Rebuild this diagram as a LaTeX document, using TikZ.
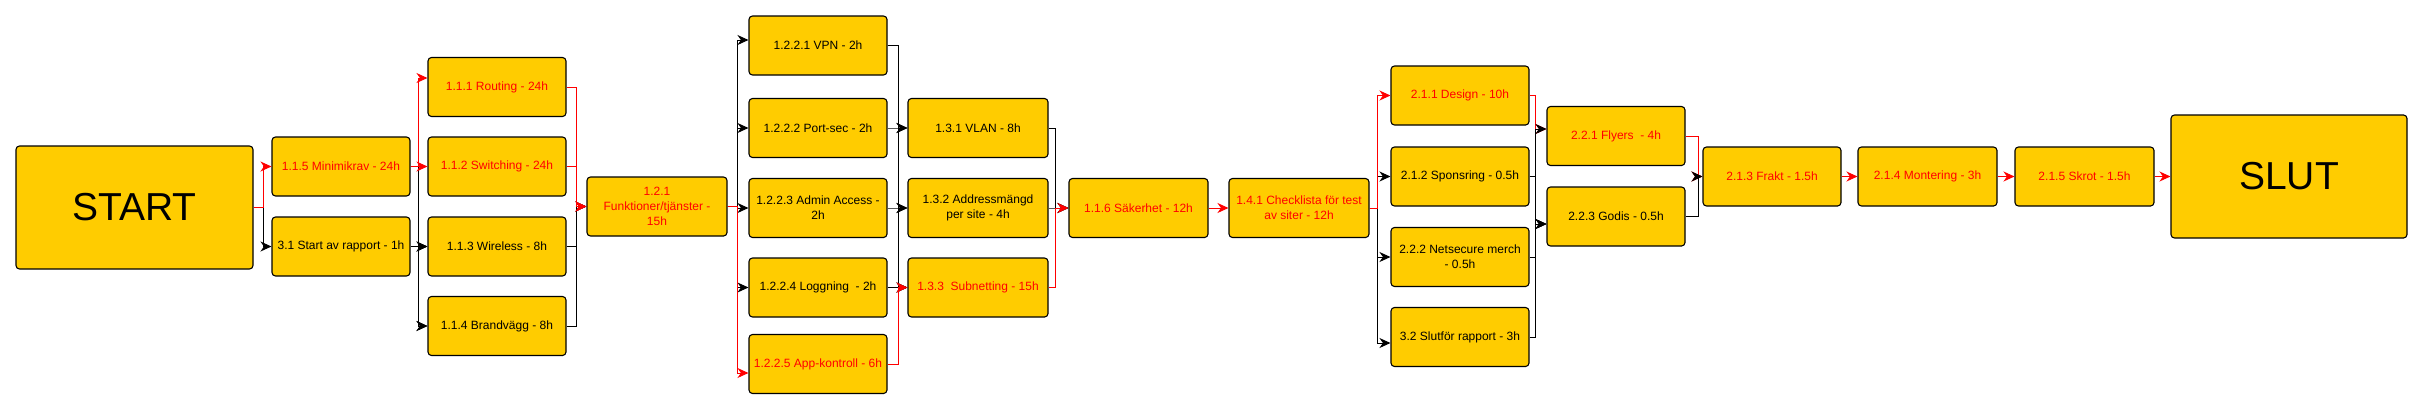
\documentclass[tikz,border=0pt]{standalone}
\usepackage{fontspec}
\setmainfont{Liberation Sans}
\usetikzlibrary{arrows.meta,calc}
\definecolor{boxfill}{HTML}{FFCC00}
\definecolor{redline}{HTML}{FF0000}
\newcommand{\myelbow}[5]{\draw[#1] (#2.east) -- (#2.east -| #3) -- ($(#3 |- #4.west)+(0,#5)$) -- ($(#4.west)+(0,#5)$);}
\begin{document}
\begin{tikzpicture}[x=1pt,y=-1pt,
  task/.style={draw=black, line width=1.1pt, fill=boxfill, rounded corners=3.5pt, inner sep=0pt, align=center,
    font=\fontsize{12}{15}\selectfont, minimum width=138pt, minimum height=59pt},
  crit/.style={task, text=redline},
  big/.style={task, font=\fontsize{39}{47}\selectfont, minimum width=237pt, minimum height=123pt},
  conn/.style={line width=1pt, -{Stealth[length=11pt,width=10pt,inset=3.5pt]}},
  blk/.style={conn, draw=black},
  rd/.style={conn, draw=redline},
]
\useasboundingbox (0,0) rectangle (2423,410);

% nodes
\node[big] (start) at (134.5,207.5) {START};
\node[crit] (n115) at (341,166.5) {1.1.5 Minimikrav - 24h};
\node[task] (n31) at (341,246.5) {3.1 Start av rapport - 1h};
\node[crit] (n111) at (497,87) {1.1.1 Routing - 24h};
\node[crit] (n112) at (497,166.5) {1.1.2 Switching - 24h};
\node[task] (n113) at (497,246.5) {1.1.3 Wireless - 8h};
\node[task] (n114) at (497,326) {1.1.4 Brandvägg - 8h};
\node[crit, minimum width=140pt] (n121) at (657,206.5) {1.2.1\\Funktioner/tjänster -\\15h};
\node[task] (n1221) at (818,45.5) {1.2.2.1 VPN - 2h};
\node[task] (n1222) at (818,128) {1.2.2.2 Port-sec - 2h};
\node[task] (n1223) at (818,208) {1.2.2.3 Admin Access -\\2h};
\node[task] (n1224) at (818,287.5) {1.2.2.4 Loggning~ - 2h};
\node[crit] (n1225) at (818,364) {1.2.2.5 App-kontroll - 6h};
\node[task, minimum width=140pt] (n131) at (978,128) {1.3.1 VLAN - 8h};
\node[task, minimum width=140pt] (n132) at (978,208) {1.3.2 Addressmängd\\per site - 4h};
\node[crit, minimum width=140pt] (n133) at (978,287.5) {1.3.3~ Subnetting - 15h};
\node[crit, minimum width=139pt] (n116) at (1138.5,208) {1.1.6 Säkerhet - 12h};
\node[crit, minimum width=140pt] (n141) at (1299,208) {1.4.1 Checklista för test\\av siter - 12h};
\node[crit] (n211) at (1460,95.5) {2.1.1 Design - 10h};
\node[task] (n212) at (1460,176.5) {2.1.2 Sponsring - 0.5h};
\node[task] (n222) at (1460,257) {2.2.2 Netsecure merch\\- 0.5h};
\node[task] (n32) at (1460,337) {3.2 Slutför rapport - 3h};
\node[crit] (n221) at (1616,136) {2.2.1 Flyers~ - 4h};
\node[task] (n223) at (1616,216.5) {2.2.3 Godis - 0.5h};
\node[crit] (n213) at (1772,176.5) {2.1.3 Frakt - 1.5h};
\node[crit, minimum width=139pt] (n214) at (1927.5,176.5) {2.1.4 Montering - 3h};
\node[crit, minimum width=139pt] (n215) at (2084.5,176.5) {2.1.5 Skrot - 1.5h};
\node[big, minimum width=236pt] (slut) at (2289,176.5) {SLUT};

% junction columns
\coordinate (J1) at (263,0);
\coordinate (J2) at (418,0);
\coordinate (J3) at (576,0);
\coordinate (J4) at (737,0);
\coordinate (J5) at (898,0);
\coordinate (J6) at (1055,0);
\coordinate (J7) at (1377,0);
\coordinate (J8) at (1535,0);
\coordinate (J9) at (1698,0);

% black connectors
\myelbow{blk}{start}{J1}{n31}{0}
\myelbow{blk}{n115}{J2}{n113}{0}
\myelbow{blk}{n115}{J2}{n114}{0}
\myelbow{blk}{n31}{J2}{n113}{0}
\myelbow{blk}{n31}{J2}{n114}{0}
\myelbow{blk}{n113}{J3}{n121}{0}
\myelbow{blk}{n114}{J3}{n121}{0}
\myelbow{blk}{n121}{J4}{n1221}{-5.5}
\myelbow{blk}{n121}{J4}{n1222}{0}
\myelbow{blk}{n121}{J4}{n1223}{0}
\myelbow{blk}{n121}{J4}{n1224}{0}
\myelbow{blk}{n1221}{J5}{n131}{0}
\myelbow{blk}{n1221}{J5}{n132}{0}
\myelbow{blk}{n1221}{J5}{n133}{0}
\myelbow{blk}{n1222}{J5}{n131}{0}
\myelbow{blk}{n1223}{J5}{n132}{0}
\myelbow{blk}{n1224}{J5}{n133}{0}
\myelbow{blk}{n131}{J6}{n116}{0}
\myelbow{blk}{n132}{J6}{n116}{0}
\myelbow{blk}{n141}{J7}{n212}{0}
\myelbow{blk}{n141}{J7}{n222}{0}
\myelbow{blk}{n141}{J7}{n32}{6}

% red connectors
\myelbow{rd}{start}{J1}{n115}{0}
\myelbow{rd}{n115}{J2}{n111}{-9}
\myelbow{rd}{n115}{J2}{n112}{0}
\myelbow{rd}{n111}{J3}{n121}{0}
\myelbow{rd}{n112}{J3}{n121}{0}
\myelbow{rd}{n121}{J4}{n1225}{9}
\myelbow{rd}{n1225}{J5}{n133}{0}
\myelbow{rd}{n133}{J6}{n116}{0}
\draw[rd] (n116) -- (n141);
\myelbow{rd}{n141}{J7}{n211}{0}
\myelbow{rd}{n211}{J8}{n221}{-7}
\myelbow{rd}{n221}{J9}{n213}{0}
\draw[rd] (n213) -- (n214);
\draw[rd] (n214) -- (n215);
\draw[rd] (n215) -- (slut);

% black connectors drawn over red ones
\myelbow{blk}{n212}{J8}{n221}{-7}
\myelbow{blk}{n212}{J8}{n223}{7.5}
\myelbow{blk}{n222}{J8}{n223}{7.5}
\myelbow{blk}{n32}{J8}{n223}{7.5}
\myelbow{blk}{n223}{J9}{n213}{0}
\end{tikzpicture}
\end{document}
